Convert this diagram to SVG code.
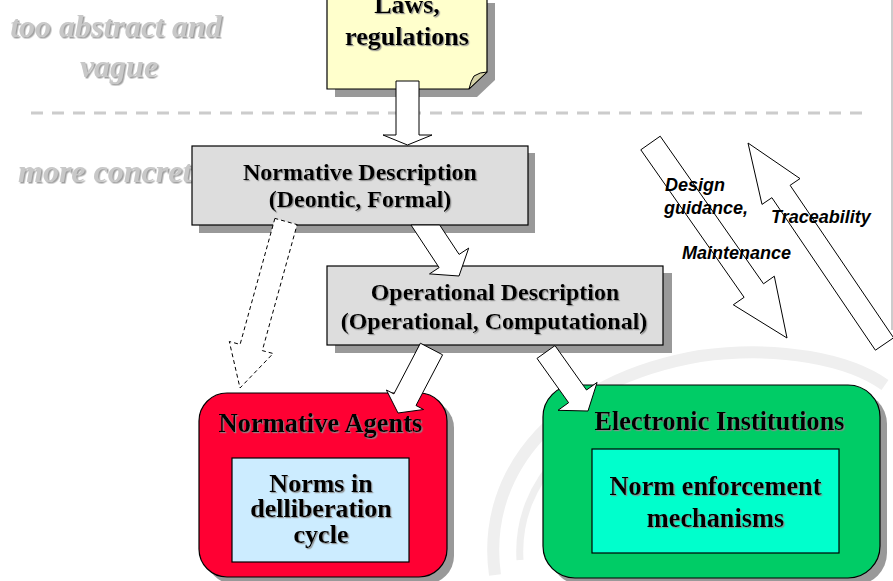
<svg xmlns="http://www.w3.org/2000/svg" width="893" height="581" viewBox="0 0 893 581">
<defs>
<filter id="ts" x="-10%" y="-30%" width="120%" height="160%"><feDropShadow dx="1.2" dy="1.2" stdDeviation="0.5" flood-color="#8a8a8a" flood-opacity="0.9"/></filter>
<filter id="gs" x="-10%" y="-30%" width="120%" height="160%"><feDropShadow dx="1.5" dy="1.5" stdDeviation="0.4" flood-color="#a0a0a0"/></filter>
</defs>
<style>
.bg{fill:#ffffff}
.shadow{fill:#999999}
.box{stroke:#000;stroke-width:1.2}
.serif{font-family:"Liberation Serif","Times New Roman",serif;font-weight:bold;fill:#000;text-anchor:middle}
.gray{font-family:"Liberation Serif","Times New Roman",serif;font-weight:bold;font-style:italic;font-size:32px;fill:#c8c8c8;filter:url(#gs)}
.arrow{fill:#fff;stroke:#000;stroke-width:1}
.dashed{fill:#fff;stroke:#000;stroke-width:1;stroke-dasharray:4 3}
.lbl{font-family:"Liberation Sans",Arial,sans-serif;font-weight:bold;font-style:italic;font-size:18px;fill:#000}
.wm{fill:none;stroke:#efefef}
</style>
<rect class="bg" x="0" y="0" width="893" height="581"/>
<g id="watermark">
<path class="wm" stroke-width="12" d="M495,575 C480,470 560,380 700,356 C780,345 850,360 885,385"/>
<path class="wm" stroke-width="7" d="M520,560 C515,480 580,415 680,395"/>
<line x1="892" y1="0" x2="892" y2="330" stroke="#bbbbbb" stroke-width="1.5"/>
</g>
<g id="level-labels">
<text class="gray" x="116" y="37" text-anchor="middle">too abstract and</text>
<text class="gray" x="119" y="77" text-anchor="middle">vague</text>
<line x1="31" y1="113" x2="862" y2="113" stroke="#cccccc" stroke-width="3" stroke-dasharray="12 9"/>
<text class="gray" x="18" y="182">more concrete</text>
</g>
<g id="laws">
<polygon class="shadow" points="335,3 495,3 495,80 477,97 335,97"/>
<polygon class="box" fill="#ffffcc" points="327,-5 487,-5 487,72 469,89 327,89"/>
<path d="M487,72 L469,89 Q471,80 474,76 Q480,72 487,72 Z" fill="#d6d3a8" stroke="#000" stroke-width="1"/>
<text class="serif" font-size="26" x="407" y="13" filter="url(#ts)">Laws,</text>
<text class="serif" font-size="26" x="407" y="45" filter="url(#ts)">regulations</text>
</g>
<g id="normative-description">
<rect class="shadow" x="199" y="153" width="336" height="80"/>
<rect class="box" fill="#dddddd" x="192" y="146" width="336" height="79"/>
<text class="serif" font-size="24" x="360" y="180" filter="url(#ts)">Normative Description</text>
<text class="serif" font-size="24" x="360" y="207" filter="url(#ts)">(Deontic, Formal)</text>
</g>
<g id="operational-description">
<rect class="shadow" x="335" y="273" width="337" height="80"/>
<rect class="box" fill="#dddddd" x="327" y="266" width="336" height="79"/>
<text class="serif" font-size="24" x="495" y="300" filter="url(#ts)">Operational Description</text>
<text class="serif" font-size="24" x="494" y="329" filter="url(#ts)">(Operational, Computational)</text>
</g>
<g id="normative-agents">
<rect class="shadow" x="206" y="400" width="248" height="184" rx="28"/>
<rect class="box" fill="#ff0033" x="199" y="393" width="248" height="184" rx="28"/>
<text class="serif" font-size="26.5" x="320.5" y="432" filter="url(#ts)">Normative Agents</text>
<rect class="box" fill="#ccecff" x="232" y="458" width="177" height="104"/>
<text class="serif" font-size="26" x="321" y="492" filter="url(#ts)">Norms in</text>
<text class="serif" font-size="26" x="321" y="517" filter="url(#ts)">delliberation</text>
<text class="serif" font-size="26" x="321" y="543" filter="url(#ts)">cycle</text>
</g>
<g id="electronic-institutions">
<rect class="shadow" x="550" y="392" width="337" height="193" rx="32"/>
<rect class="box" fill="#00cc66" x="543" y="385" width="337" height="193" rx="32"/>
<text class="serif" font-size="26.3" x="719.5" y="430" filter="url(#ts)">Electronic Institutions</text>
<rect class="box" fill="#00ffcc" x="592" y="449" width="247" height="104"/>
<text class="serif" font-size="26.3" x="715.5" y="495" filter="url(#ts)">Norm enforcement</text>
<text class="serif" font-size="26.3" x="715.5" y="527" filter="url(#ts)">mechanisms</text>
</g>
<g id="connectors">
<polygon class="arrow" points="396,81 419,81 419,135 432,135 407.5,145 383,135 396,135"/>
<polygon class="arrow" points="411,225 439.1,267.6 429.5,273.9 459,276 468.7,248.1 459.1,254.4 439.7,225"/>
<polygon class="dashed" points="274.9,218.4 240.1,344.4 229.3,341.5 240,388 273.1,353.5 262.3,350.6 297.1,224.6"/>
<polygon class="arrow" points="420.4,343.2 393.9,393.9 386.4,390 398,413 423.6,409.5 416,405.5 442.6,354.8"/>
<polygon class="arrow" points="537,358.4 568.6,402.7 558,410.3 588,411 597.1,382.4 586.5,390 555,345.6"/>
<polygon class="arrow" points="640.8,149.8 744.1,297.3 733.3,304.8 787,338 774.3,276.2 763.5,283.8 660.2,136.2"/>
<polygon class="arrow" points="893.6,337.8 790.1,185.3 800,178.6 748,143 762,204.4 771.9,197.7 875.4,350.2"/>
</g>
<g id="arrow-labels">
<text class="lbl" x="665" y="191">Design</text>
<text class="lbl" x="664" y="214">guidance,</text>
<text class="lbl" x="771" y="223">Traceability</text>
<text class="lbl" x="682" y="259">Maintenance</text>
</g>
</svg>
